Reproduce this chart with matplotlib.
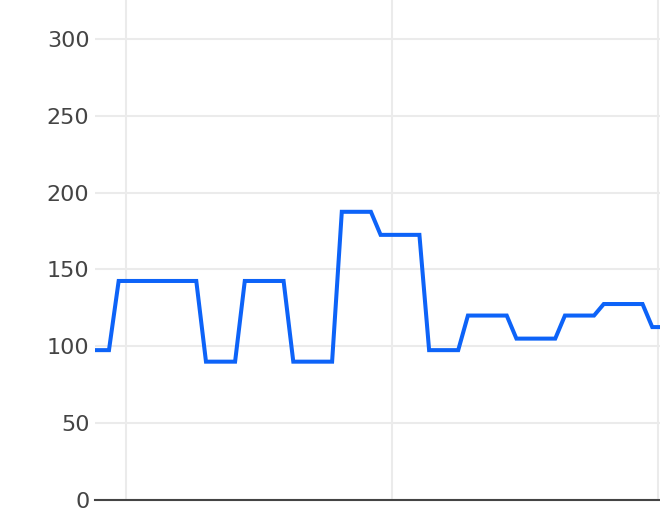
import matplotlib
matplotlib.use("Agg")
import matplotlib.pyplot as plt

days = list(range(-2, 58))
values = [97.5, 97.5, 97.5,
          142.5, 142.5, 142.5, 142.5, 142.5, 142.5, 142.5, 142.5, 142.5,
          90, 90, 90, 90,
          142.5, 142.5, 142.5, 142.5, 142.5,
          90, 90, 90, 90, 90,
          187.5, 187.5, 187.5, 187.5,
          172.5, 172.5, 172.5, 172.5, 172.5,
          97.5, 97.5, 97.5, 97.5,
          120, 120, 120, 120, 120,
          105, 105, 105, 105, 105,
          120, 120, 120, 120,
          127.5, 127.5, 127.5, 127.5, 127.5,
          112.5, 112.5]
y_ticks = [0, 50, 100, 150, 200, 250, 300]
x_grid = [1.75, 29.2, 56.6]

fig = plt.figure(figsize=(6.6, 5.24), dpi=100)
ax = fig.add_axes([95/660, 24/524, 1 - 95/660, 500/524])
ax.plot(days, values, color="#0d63f8", lw=2.9, solid_joinstyle="miter", zorder=3)
ax.set_xlim(-1.44, 56.8)
ax.set_ylim(0, 325.3)
ax.set_yticks(y_ticks)
ax.set_xticks(x_grid)
ax.set_xticklabels([])
ax.grid(True, color="#ebebeb", lw=1.5, zorder=0)
ax.set_axisbelow(True)
for s in ["top", "right", "left"]:
    ax.spines[s].set_visible(False)
ax.spines["bottom"].set_color("#444444")
ax.spines["bottom"].set_linewidth(1.5)
ax.spines["bottom"].set_zorder(4)
ax.tick_params(axis="both", length=0)
ax.tick_params(axis="y", labelsize=16, labelcolor="#444444", pad=4)
fig.savefig("out.png", dpi=100)
